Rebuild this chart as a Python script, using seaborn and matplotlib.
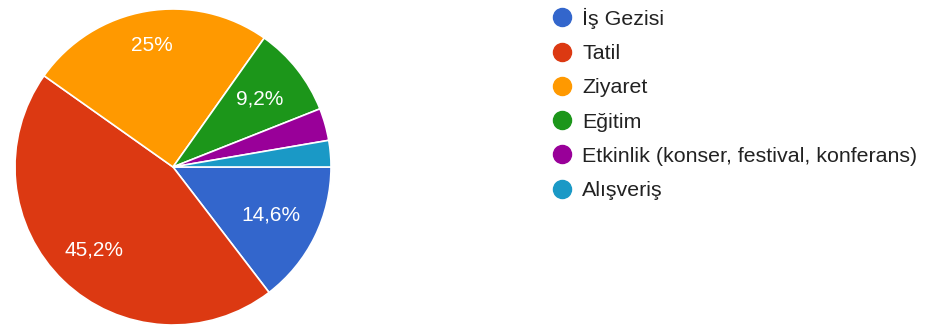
import matplotlib
matplotlib.use("Agg")
import matplotlib.pyplot as plt
from matplotlib.lines import Line2D
import numpy as np
import seaborn as sns

# Purpose of travel survey (percent of answers)
categories = ["İş Gezisi", "Tatil", "Ziyaret", "Eğitim",
              "Etkinlik (konser, festival, konferans)", "Alışveriş"]
shares = [14.6, 45.2, 25.0, 9.2, 3.3, 2.7]
colors = ["#3366cc", "#dc3912", "#ff9900", "#1c961a", "#990099", "#1a99c6"]

# radial placement of each in-slice label (fraction of radius)
label_radius = [0.69, 0.725, 0.78, 0.70, 0.7, 0.7]

sns.set_theme(style="white")
plt.rcParams["font.family"] = ["Liberation Sans", "DejaVu Sans"]

W, H = 925, 326
fig = plt.figure(figsize=(W / 100, H / 100), dpi=100)

cx, cy, r = 173, 167, 158
ax = fig.add_axes([(cx - r) / W, (H - cy - r) / H, 2 * r / W, 2 * r / H])

wedges, _ = ax.pie(
    shares, colors=colors, startangle=0, counterclock=False,
    radius=1.0, wedgeprops=dict(edgecolor="white", linewidth=1.2),
)
ax.set_xlim(-1, 1)
ax.set_ylim(-1, 1)
ax.set_aspect("equal")
ax.axis("off")

for w, v, d in zip(wedges, shares, label_radius):
    if v < 5:
        continue
    ang = np.deg2rad((w.theta1 + w.theta2) / 2)
    txt = f"{v:g}".replace(".", ",") + "%"
    ax.text(d * np.cos(ang), d * np.sin(ang), txt, ha="center", va="center",
            color="white", fontsize=15)

handles = [Line2D([], [], linestyle="none", marker="o", markersize=13,
                  markerfacecolor=c, markeredgecolor=c) for c in colors]
fig.legend(handles, categories, loc="upper left",
           bbox_to_anchor=(541 / W, 1 + 3 / H), frameon=False,
           fontsize=15.4, labelspacing=0.715, handlelength=0.975,
           handletextpad=0.45, borderpad=0.0, labelcolor="#222222")

fig.savefig("out.png", dpi=100)
